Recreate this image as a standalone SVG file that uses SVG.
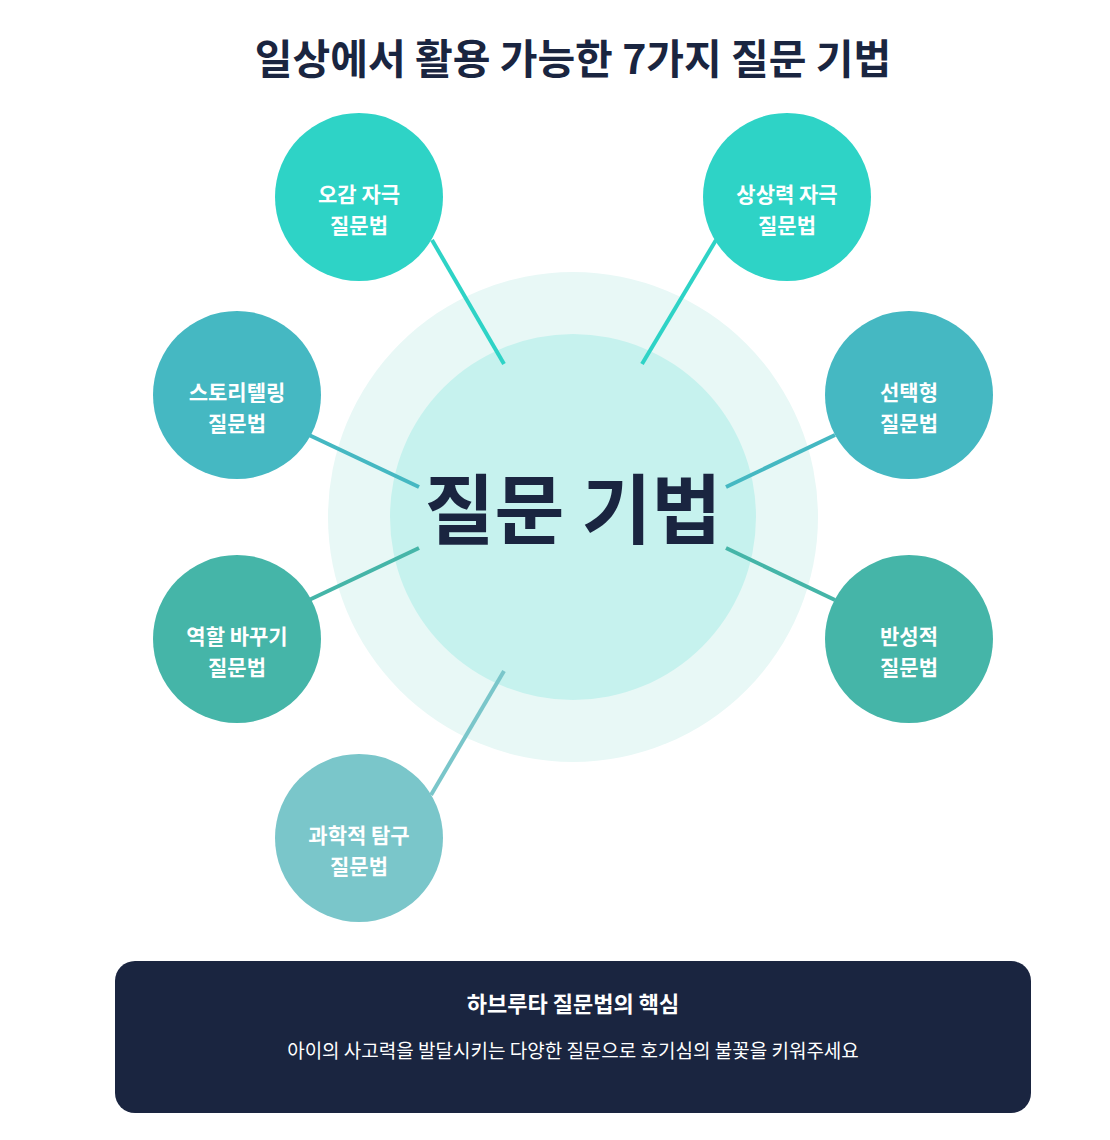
<svg xmlns="http://www.w3.org/2000/svg" width="1110" height="1140" viewBox="0 0 1110 1140">
<style>
text{font-family:"Noto Sans CJK KR","Noto Sans",sans-serif;text-anchor:middle}
.t{fill:#fff;font-weight:700;font-size:21px}
.c line{stroke-width:4}
</style>
<rect width="1110" height="1140" fill="#fff"/>
<text x="573" y="74" font-size="41" font-weight="700" fill="#1A2540">일상에서 활용 가능한 7가지 질문 기법</text>
<g id="center">
<circle cx="573" cy="517" r="245" fill="#E8F8F6"/>
<circle cx="573" cy="517" r="183" fill="#C6F2EE"/>
<text x="573" y="538" font-size="76" font-weight="700" fill="#1A2540">질문 기법</text>
</g>
<g class="c" id="connectors">
<line x1="432" y1="240" x2="504" y2="364" stroke="#2ED3C6"/>
<line x1="716" y1="240" x2="642" y2="364" stroke="#2ED3C6"/>
<line x1="309" y1="435" x2="419" y2="487" stroke="#45B8C2"/>
<line x1="835" y1="435" x2="726" y2="487" stroke="#45B8C2"/>
<line x1="309" y1="600" x2="419" y2="548" stroke="#45B5A8"/>
<line x1="835" y1="600" x2="726" y2="548" stroke="#45B5A8"/>
<line x1="431" y1="795" x2="504" y2="671" stroke="#7AC6CA"/>
</g>
<g id="n1"><circle cx="359" cy="197" r="84" fill="#2ED3C6"/><text class="t" x="359" y="202">오감 자극</text><text class="t" x="359" y="233">질문법</text></g>
<g id="n2"><circle cx="787" cy="197" r="84" fill="#2ED3C6"/><text class="t" x="787" y="202">상상력 자극</text><text class="t" x="787" y="233">질문법</text></g>
<g id="n3"><circle cx="237" cy="395" r="84" fill="#45B8C2"/><text class="t" x="237" y="400">스토리텔링</text><text class="t" x="237" y="431">질문법</text></g>
<g id="n4"><circle cx="909" cy="395" r="84" fill="#45B8C2"/><text class="t" x="909" y="400">선택형</text><text class="t" x="909" y="431">질문법</text></g>
<g id="n5"><circle cx="237" cy="639" r="84" fill="#45B5A8"/><text class="t" x="237" y="644">역할 바꾸기</text><text class="t" x="237" y="675">질문법</text></g>
<g id="n6"><circle cx="909" cy="639" r="84" fill="#45B5A8"/><text class="t" x="909" y="644">반성적</text><text class="t" x="909" y="675">질문법</text></g>
<g id="n7"><circle cx="359" cy="838" r="84" fill="#7AC6CA"/><text class="t" x="359" y="843">과학적 탐구</text><text class="t" x="359" y="874">질문법</text></g>
<g id="summary">
<rect x="115" y="961" width="916" height="152" rx="20" fill="#1A2540"/>
<text x="573" y="1012" font-size="22" font-weight="700" fill="#fff">하브루타 질문법의 핵심</text>
<text x="573" y="1058" font-size="19" fill="#fff">아이의 사고력을 발달시키는 다양한 질문으로 호기심의 불꽃을 키워주세요</text>
</g>
</svg>
